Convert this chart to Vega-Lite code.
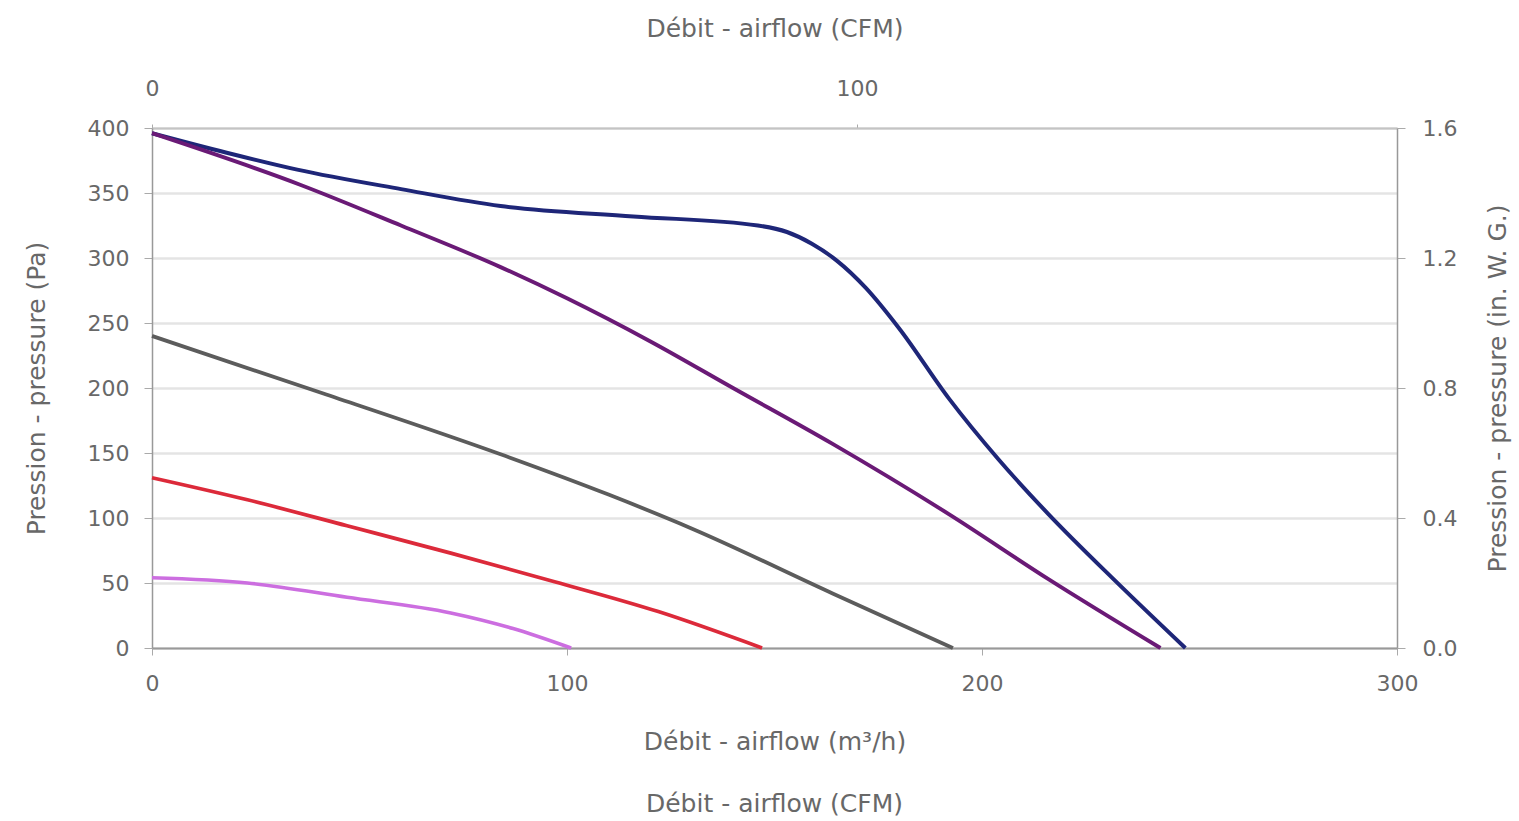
{
  "$schema": "https://vega.github.io/schema/vega-lite/v6.json",
  "width": 1245,
  "height": 520,
  "autosize": {"type": "none"},
  "padding": {"left": 152, "top": 128, "right": 122, "bottom": 173},
  "background": "white",
  "config": {
    "view": {"stroke": null},
    "font": "DejaVu Sans",
    "axis": {
      "labelFont": "DejaVu Sans",
      "titleFont": "DejaVu Sans",
      "labelColor": "#686868",
      "titleColor": "#686868",
      "labelFontSize": 22,
      "titleFontSize": 25,
      "titleFontWeight": "normal",
      "domainColor": "#999999",
      "tickColor": "#aaaaaa",
      "domainWidth": 2
    }
  },
  "title": {
    "text": "Débit - airflow (CFM)",
    "orient": "bottom",
    "frame": "group",
    "anchor": "middle",
    "fontSize": 25,
    "fontWeight": "normal",
    "font": "DejaVu Sans",
    "color": "#686868",
    "offset": 38
  },
  "layer": [
    {
      "data": {
        "values": [
          {"series": "S1", "m3h": 0, "pa": 396},
          {"series": "S1", "m3h": 18, "pa": 381},
          {"series": "S1", "m3h": 35, "pa": 368},
          {"series": "S1", "m3h": 60, "pa": 353},
          {"series": "S1", "m3h": 84, "pa": 340},
          {"series": "S1", "m3h": 116, "pa": 332},
          {"series": "S1", "m3h": 146, "pa": 325},
          {"series": "S1", "m3h": 153, "pa": 320},
          {"series": "S1", "m3h": 159, "pa": 311},
          {"series": "S1", "m3h": 165, "pa": 298},
          {"series": "S1", "m3h": 172, "pa": 277},
          {"series": "S1", "m3h": 180, "pa": 246},
          {"series": "S1", "m3h": 192, "pa": 192},
          {"series": "S1", "m3h": 204, "pa": 145},
          {"series": "S1", "m3h": 216, "pa": 103},
          {"series": "S1", "m3h": 232, "pa": 52},
          {"series": "S1", "m3h": 249, "pa": 0},
          {"series": "S2", "m3h": 0, "pa": 396},
          {"series": "S2", "m3h": 36, "pa": 356},
          {"series": "S2", "m3h": 60, "pa": 325},
          {"series": "S2", "m3h": 84, "pa": 293},
          {"series": "S2", "m3h": 100, "pa": 269},
          {"series": "S2", "m3h": 120, "pa": 236},
          {"series": "S2", "m3h": 140, "pa": 200},
          {"series": "S2", "m3h": 164, "pa": 157},
          {"series": "S2", "m3h": 192, "pa": 103},
          {"series": "S2", "m3h": 216, "pa": 53},
          {"series": "S2", "m3h": 243, "pa": 0},
          {"series": "S3", "m3h": 0, "pa": 240},
          {"series": "S3", "m3h": 42, "pa": 195},
          {"series": "S3", "m3h": 84, "pa": 149},
          {"series": "S3", "m3h": 110, "pa": 118},
          {"series": "S3", "m3h": 130, "pa": 92},
          {"series": "S3", "m3h": 164, "pa": 42},
          {"series": "S3", "m3h": 193, "pa": 0},
          {"series": "S4", "m3h": 0, "pa": 131},
          {"series": "S4", "m3h": 23, "pa": 114},
          {"series": "S4", "m3h": 47, "pa": 94},
          {"series": "S4", "m3h": 72, "pa": 73},
          {"series": "S4", "m3h": 97, "pa": 51},
          {"series": "S4", "m3h": 122, "pa": 28},
          {"series": "S4", "m3h": 147, "pa": 0},
          {"series": "S5", "m3h": 0, "pa": 54},
          {"series": "S5", "m3h": 23, "pa": 50},
          {"series": "S5", "m3h": 47, "pa": 39},
          {"series": "S5", "m3h": 72, "pa": 27},
          {"series": "S5", "m3h": 87, "pa": 15},
          {"series": "S5", "m3h": 101, "pa": 0}
        ]
      },
      "mark": {"type": "line", "interpolate": "monotone"},
      "encoding": {
        "x": {
          "field": "m3h",
          "type": "quantitative",
          "scale": {"domain": [0, 300], "nice": false},
          "axis": {
            "orient": "bottom",
            "values": [0, 100, 200, 300],
            "title": "Débit - airflow (m³/h)",
            "grid": false,
            "tickSize": 7,
            "labelPadding": 18,
            "titlePadding": 35,
            "labelFlush": false
          }
        },
        "y": {
          "field": "pa",
          "type": "quantitative",
          "scale": {"domain": [0, 400], "nice": false},
          "axis": {
            "orient": "left",
            "values": [0, 50, 100, 150, 200, 250, 300, 350, 400],
            "title": "Pression - pressure (Pa)",
            "grid": true,
            "gridColor": "#e4e4e4",
            "gridWidth": 2.5,
            "tickSize": 8,
            "labelPadding": 15,
            "titlePadding": 38,
            "domainWidth": 1.5,
            "labelFlush": false
          }
        },
        "color": {
          "field": "series",
          "type": "nominal",
          "scale": {
            "domain": ["S1", "S2", "S3", "S4", "S5"],
            "range": ["#1e2678", "#6a1a76", "#5c5c5c", "#dc2a3a", "#cc6ee0"]
          },
          "legend": null
        },
        "strokeWidth": {
          "field": "series",
          "type": "nominal",
          "scale": {
            "domain": ["S1", "S2", "S3", "S4", "S5"],
            "range": [4, 3.6, 3, 3.3, 3.3]
          },
          "legend": null
        }
      }
    },
    {
      "data": {
        "values": [
          {"cfm": 0, "inwg": 0},
          {"cfm": 100, "inwg": 1.6}
        ]
      },
      "mark": {"type": "point", "opacity": 0},
      "encoding": {
        "x": {
          "field": "cfm",
          "type": "quantitative",
          "scale": {"domain": [0, 176.57], "nice": false},
          "axis": {
            "orient": "top",
            "values": [0, 100],
            "title": "Débit - airflow (CFM)",
            "grid": false,
            "tickSize": 4,
            "labelPadding": 24,
            "titlePadding": 36,
            "domainColor": "#c4c4c4",
            "labelFlush": false
          }
        },
        "y": {
          "field": "inwg",
          "type": "quantitative",
          "scale": {"domain": [0, 1.6], "nice": false},
          "axis": {
            "orient": "right",
            "values": [0, 0.4, 0.8, 1.2, 1.6],
            "format": ".1f",
            "title": "Pression - pressure (in. W. G.)",
            "titleAngle": -90,
            "grid": false,
            "tickSize": 8,
            "labelPadding": 17,
            "titlePadding": 54,
            "domainWidth": 1.5,
            "labelFlush": false
          }
        }
      }
    }
  ],
  "resolve": {"scale": {"x": "independent", "y": "independent"}}
}
